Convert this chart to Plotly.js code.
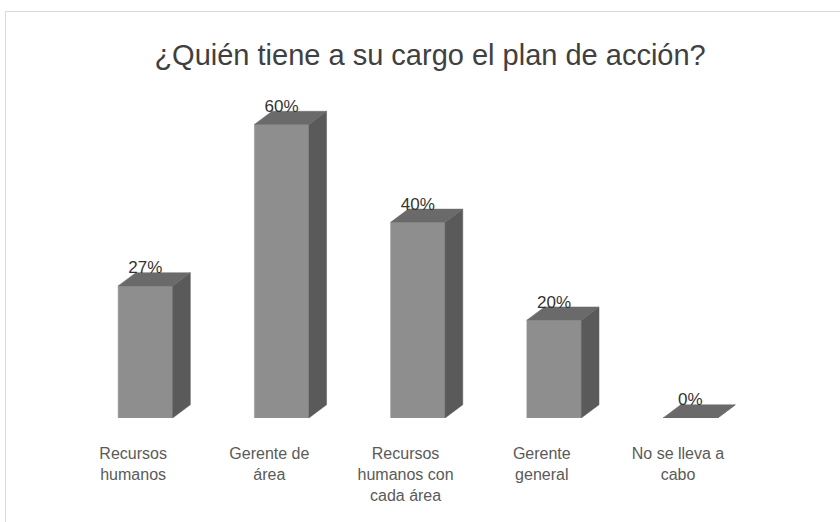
<!DOCTYPE html>
<html>
<head>
<meta charset="utf-8">
<script src="https://cdn.plot.ly/plotly-3.0.1.min.js"></script>
<style>
  html, body { margin: 0; padding: 0; background: #ffffff; }
  #frame { position: absolute; left: 5px; top: 11px; width: 900px; height: 600px; border: 1px solid #d9d9d9; }
  #chart { position: absolute; left: 0; top: 0; width: 840px; height: 522px; }
</style>
</head>
<body>
<div id="frame"></div>
<div id="chart"></div>
<script>
// ---- data ----
const categories = [
  "Recursos<br>humanos",
  "Gerente de<br>área",
  "Recursos<br>humanos con<br>cada área",
  "Gerente<br>general",
  "No se lleva a<br>cabo"
];
const values = [27, 60, 40, 20, 0];
const valueLabels = ["27%", "60%", "40%", "20%", "0%"];

// ---- 3D look parameters (styling) ----
const frontOffset = -0.11;   // left edge of front face relative to category
const frontWidth = 0.40;
const depthX = 0.13;         // x units
const depthY = 2.7;          // y units (%)
const labelDrop = 1.0;       // y units: pull value labels closer to bar tops

const xs = categories.map((_, i) => i);

// side and top faces built from the data
const sideX = [], sideY = [], topX = [], topY = [];
xs.forEach((x, i) => {
  const v = values[i];
  const xl = x + frontOffset, xr = xl + frontWidth;
  sideX.push(xr, xr + depthX, xr + depthX, xr, xr, null);
  sideY.push(0, depthY, v + depthY, v, 0, null);
  topX.push(xl, xl + depthX, xr + depthX, xr, xl, null);
  topY.push(v, v + depthY, v + depthY, v, v, null);
});

const frontTrace = {
  type: "bar",
  x: xs,
  y: values,
  offset: frontOffset,
  width: frontWidth,
  marker: { color: "#8e8e8e", line: { color: "#9a9a9a", width: 0.5 } },
  hoverinfo: "skip"
};
const sideTrace = {
  type: "scatter", mode: "lines", x: sideX, y: sideY,
  fill: "toself", fillcolor: "#5a5a5a",
  line: { color: "#5a5a5a", width: 0.5 }, hoverinfo: "skip"
};
const topTrace = {
  type: "scatter", mode: "lines", x: topX, y: topY,
  fill: "toself", fillcolor: "#6a6a6a",
  line: { color: "#6a6a6a", width: 0.5 }, hoverinfo: "skip"
};
const labelTrace = {
  type: "scatter", mode: "text",
  x: xs.map(x => x + frontOffset + frontWidth / 2),
  y: values.map(v => v + depthY - labelDrop),
  text: valueLabels,
  textposition: "top center",
  textfont: { family: "Liberation Sans, Arial, sans-serif", size: 17, color: "#333333" },
  hoverinfo: "skip", cliponaxis: false
};

const layout = {
  width: 840, height: 522,
  margin: { l: 65, r: 53, t: 100, b: 104 },
  paper_bgcolor: "rgba(0,0,0,0)",
  plot_bgcolor: "rgba(0,0,0,0)",
  showlegend: false,
  title: {
    text: "¿Quién tiene a su cargo el plan de acción?",
    font: { family: "Liberation Sans, Arial, sans-serif", size: 29, color: "#404040" },
    x: 0.512, xanchor: "center",
    y: 0.895, yref: "container", yanchor: "middle"
  },
  xaxis: {
    range: [-0.5, 4.8],
    tickmode: "array", tickvals: xs, ticktext: categories,
    showgrid: false, zeroline: false, showline: false, ticks: "",
    ticklabelstandoff: 24,
    tickfont: { family: "Liberation Sans, Arial, sans-serif", size: 16, color: "#5a5a5a" },
    fixedrange: true
  },
  yaxis: {
    range: [0, 65],
    showgrid: false, zeroline: false, showline: false, showticklabels: false, ticks: "",
    fixedrange: true
  }
};

Plotly.newPlot("chart", [frontTrace, sideTrace, topTrace, labelTrace], layout, { displayModeBar: false, staticPlot: true });
</script>
</body>
</html>
